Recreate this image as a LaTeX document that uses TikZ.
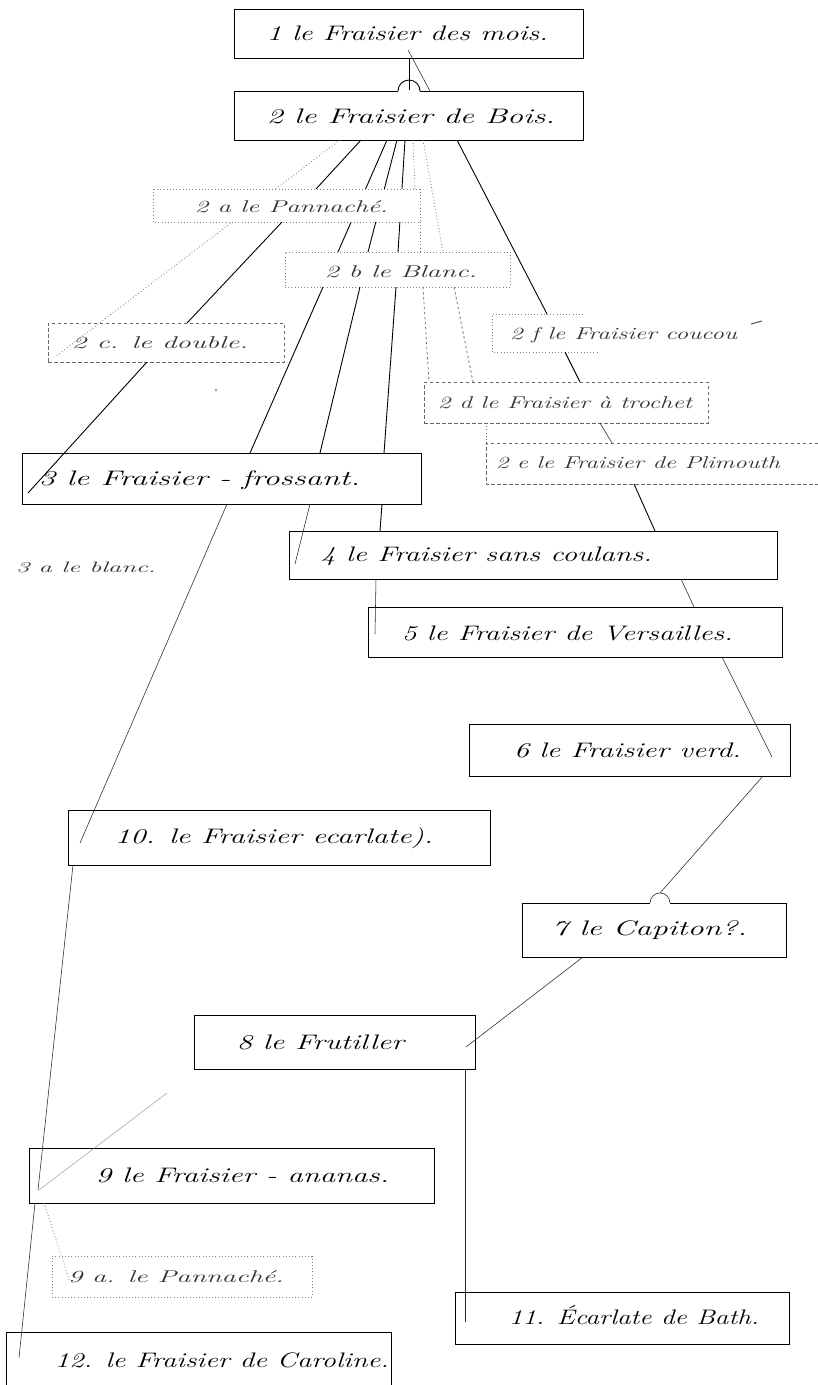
\documentclass[tikz,border=0pt]{standalone}
\usepackage{fontspec}
\usepackage{graphicx}
\usetikzlibrary{calc}
\newcommand\boxlbl[2]{\resizebox{#1pt}{\height}{\addfontfeature{LetterSpace=18,FakeBold=0.6}#2}}
\tikzset{
  box/.style={draw=black, line width=1pt, inner sep=0pt, outer sep=0pt},
  plainbox/.style={inner sep=0pt, outer sep=0pt},
  dotbox/.style={draw=black!50, line width=0.8pt, dash pattern=on 0.8pt off 2.4pt, inner sep=0pt, outer sep=0pt},
  dashbox/.style={draw=black!60, line width=0.7pt, dash pattern=on 3.5pt off 2.5pt, inner sep=0pt, outer sep=0pt},
  lab/.style={inner sep=0pt, font=\fontsize{21}{23}\selectfont\itshape, text=black},
  labs/.style={inner sep=0pt, font=\fontsize{17}{19}\selectfont\itshape, text=black!80},
  conn/.style={line width=0.9pt, black},
  thin/.style={line width=0.55pt, black!85},
  dotc/.style={line width=0.8pt, black!55, dash pattern=on 0.8pt off 2.4pt},
  dashc/.style={line width=0.7pt, black!60, dash pattern=on 2.5pt off 2.5pt}
}
\begin{document}
\begin{tikzpicture}[x=1pt, y=-1pt]
\useasboundingbox (0,0) rectangle (818,1385);
\fill[white] (0,0) rectangle (818,1385);

% boxes
\node[box, minimum width=349pt, minimum height=49pt] (b1) at (408.5,33.5) {};
\node[box, minimum width=349pt, minimum height=49pt] (b2) at (408.5,115.5) {};
\node[plainbox, minimum width=267pt, minimum height=33pt] (b2a) at (286.5,205.5) {};
\node[dotbox, minimum width=225pt, minimum height=35pt] (b2b) at (397.5,269.5) {};
\node[dashbox, minimum width=236pt, minimum height=39pt] (b2c) at (166,342.5) {};
\node[plainbox, minimum width=106pt, minimum height=38pt] (b2f) at (545,333) {};
\node[dashbox, minimum width=284pt, minimum height=41pt] (b2d) at (566,402.5) {};
\node[plainbox, minimum width=332pt, minimum height=41pt] (b2e) at (652,463.5) {};
\node[box, minimum width=399pt, minimum height=51pt] (b3) at (221.5,478.5) {};
\node[box, minimum width=488pt, minimum height=48pt] (b4) at (533,555) {};
\node[box, minimum width=414pt, minimum height=50pt] (b5) at (575,632) {};
\node[box, minimum width=321pt, minimum height=52pt] (b6) at (629.5,750) {};
\node[box, minimum width=422pt, minimum height=55pt] (b10) at (279,837.5) {};
\node[box, minimum width=264pt, minimum height=54pt] (b7) at (654,930) {};
\node[box, minimum width=281pt, minimum height=54pt] (b8) at (334.5,1042) {};
\node[box, minimum width=405pt, minimum height=55pt] (b9) at (231.5,1175.5) {};
\node[dotbox, minimum width=260pt, minimum height=41pt] (b9a) at (182,1276.5) {};
\node[box, minimum width=334pt, minimum height=52pt] (b11) at (622,1318) {};
\node[box, minimum width=385pt, minimum height=58pt] (b12) at (198.5,1361) {};

% partial borders
\draw[dotbox] ($(b2f.north west)+(91,0)$) -- (b2f.north west) -- (b2f.south west) -- (b2f.south east);
\draw[dashbox] (b2e.north east) -- (b2e.north west) -- (b2e.south west) -- (b2e.south east);

% 1 -> 2
\draw[conn] ($(b1.south west)+(175,0)$) -- ($(b2.north west)+(175,0)$);
\draw[thin] ($(b1.north west)+(174,41)$) -- ($(b2.north west)+(196,0)$);
\draw[white, line width=2pt] ($(b2.north west)+(164,0)$) -- ($(b2.north west)+(186,0)$);
\draw[conn] ($(b2.north west)+(164,0)$) arc[start angle=180, end angle=0, radius=11pt];

% fan from 2
\draw[dotc] ($(b2.south west)+(106,0)$) -- ($(b2c.north west)+(7,34)$);
\draw[conn] ($(b2.south west)+(127,0)$) -- ($(b2a.north west)+(163,0)$);
\draw[conn] ($(b2.south west)+(153,0)$) -- ($(b2b.north west)+(53,0)$);
\draw[conn] ($(b2.south west)+(163,0)$) -- ($(b2b.north west)+(83,0)$);
\draw[conn] ($(b2.south west)+(171,0)$) -- ($(b2b.north west)+(113,0)$);
\draw[dotc] ($(b2.south west)+(179,0)$) -- ($(b2a.north west)+(262,0)$);
\draw[dotc] ($(b2.south west)+(189,0)$) -- ($(b2b.north west)+(158,0)$);
\draw[conn] ($(b2.south west)+(223,0)$) -- ($(b2f.north west)+(55,0)$);

% 2a
\draw[conn] ($(b2a.south west)+(129,0)$) -- ($(b2c.north west)+(139,0)$);
\draw[dotc] (b2a.south east) -- ($(b2b.north west)+(135,0)$);

% 2b
\draw[conn] ($(b2b.south west)+(38,0)$) -- ($(b3.north west)+(228,0)$);
\draw[conn] ($(b2b.south west)+(75,0)$) -- ($(b3.north west)+(298,0)$);
\draw[conn] ($(b2b.south west)+(111,0)$) -- ($(b3.north west)+(362,0)$);
\draw[dashc] ($(b2b.south west)+(138,0)$) -- ($(b2d.north west)+(5,0)$);
\draw[dashc] ($(b2b.south west)+(169,0)$) -- ($(b2d.north west)+(49,0)$);

% 2c
\draw[conn] ($(b2c.south west)+(99,0)$) -- ($(b3.north west)+(6,40)$);

% 2f, 2d, 2e
\draw[conn] ($(b2f.south west)+(73,0)$) -- ($(b2d.north west)+(156,0)$);
\draw[thin] ($(b2d.south west)+(176,0)$) -- ($(b2e.north west)+(126,0)$);
\draw[dotc] ($(b2d.south west)+(62,0)$) -- (b2e.north west);
\draw[conn] ($(b2e.south west)+(148,0)$) -- ($(b4.north west)+(366,0)$);

% 3
\draw[thin] ($(b3.south west)+(205,0)$) -- ($(b10.north west)+(12,33)$);
\draw[thin] ($(b3.south west)+(288,0)$) -- ($(b4.north west)+(6,33)$);
\draw[conn] ($(b3.south west)+(360,0)$) -- ($(b4.north west)+(91,0)$);

% 4
\draw[thin] ($(b4.south west)+(87,0)$) -- ($(b5.north west)+(7,27)$);
\draw[thin] ($(b4.south west)+(392,0)$) -- ($(b5.north west)+(326,0)$);

% 5 -> 6
\draw[thin] ($(b5.south west)+(354,0)$) -- ($(b6.north west)+(303,33)$);

% 6 -> 7
\draw[thin] ($(b6.south west)+(294,0)$) -- ($(b7.north west)+(138,-10)$);
\draw[white, line width=2pt] ($(b7.north west)+(128,0)$) -- ($(b7.north west)+(148,0)$);
\draw[thin] ($(b7.north west)+(128,0)$) arc[start angle=180, end angle=0, radius=10pt];

% 7 -> 8
\draw[thin] ($(b7.south west)+(61,0)$) -- ($(b8.north west)+(272,32)$);

% 8 -> 11
\draw[thin] ($(b8.south west)+(271,0)$) -- ($(b11.north west)+(10,30)$);

% faint 8 -> 9
\coordinate (f8) at (167,1093);
\draw[line width=0.4pt, black!45] (f8) -- ($(b9.north west)+(10,42)$);

% 10 -> 9
\draw[thin] ($(b10.south west)+(5,0)$) -- ($(b9.north west)+(9,42)$);

% 9 -> 12, 9a
\draw[thin] ($(b9.south west)+(6,0)$) -- ($(b12.north west)+(13,26)$);
\draw[dotc] ($(b9.south west)+(15,0)$) -- ($(b9a.north west)+(18,26)$);

% 2a box on top of crossing lines
\fill[white] (b2a.north west) rectangle (b2a.south east);
\draw[dotbox] (b2a.north west) rectangle (b2a.south east);

% small marks
\fill[black!35] (216,390) circle (1.5pt);
\draw[line width=1pt, black!70] (751,324) -- (762,321);

% labels
\node[lab] (t1) at (407.5,33) {\boxlbl{281}{1 le Fraisier des mois.}};
\node[lab] (t2) at (411,116) {\boxlbl{288}{2 le Fraisier de Bois.}};
\node[labs] (t2a) at (291.5,207) {\boxlbl{193}{2 a le Pannaché.}};
\node[labs] (t2b) at (401,272) {\boxlbl{152}{2 b le Blanc.}};
\node[labs] (t2c) at (160,343) {\boxlbl{176}{2 c. le double.}};
\node[labs] (t2f) at (623.5,335) {\boxlbl{227}{2 f le Fraisier coucou}};
\node[labs] (t2d) at (565,403) {\boxlbl{254}{2 d le Fraisier à trochet}};
\node[labs] (t2e) at (638,463) {\boxlbl{284}{2 e le Fraisier de Plimouth}};
\node[lab] (t3) at (199.5,480) {\boxlbl{321}{3 le Fraisier - frossant.}};
\node[labs, font=\fontsize{15}{17}\selectfont\itshape] (t3a) at (86,567) {\boxlbl{140}{3 a le blanc.}};
\node[lab] (t4) at (486.5,556) {\boxlbl{331}{4 le Fraisier sans coulans.}};
\node[lab] (t5) at (567.5,633) {\boxlbl{331}{5 le Fraisier de Versailles.}};
\node[lab] (t6) at (627.5,750) {\boxlbl{227}{6 le Fraisier verd.}};
\node[lab] (t10) at (274,838) {\boxlbl{318}{10. le Fraisier ecarlate).}};
\node[lab] (t7) at (649.5,930) {\boxlbl{195}{7 le Capiton?.}};
\node[lab] (t8) at (320.5,1042) {\boxlbl{167}{8 le Frutiller}};
\node[lab] (t9) at (242.5,1175) {\boxlbl{293}{9 le Fraisier - ananas.}};
\node[labs] (t9a) at (176,1277) {\boxlbl{216}{9 a. le Pannaché.}};
\node[lab] (t11) at (634,1315) {\boxlbl{250}{11. Écarlate de Bath.}};
\node[lab] (t12) at (222,1360) {\boxlbl{334}{12. le Fraisier de Caroline.}};
\end{tikzpicture}
\end{document}
